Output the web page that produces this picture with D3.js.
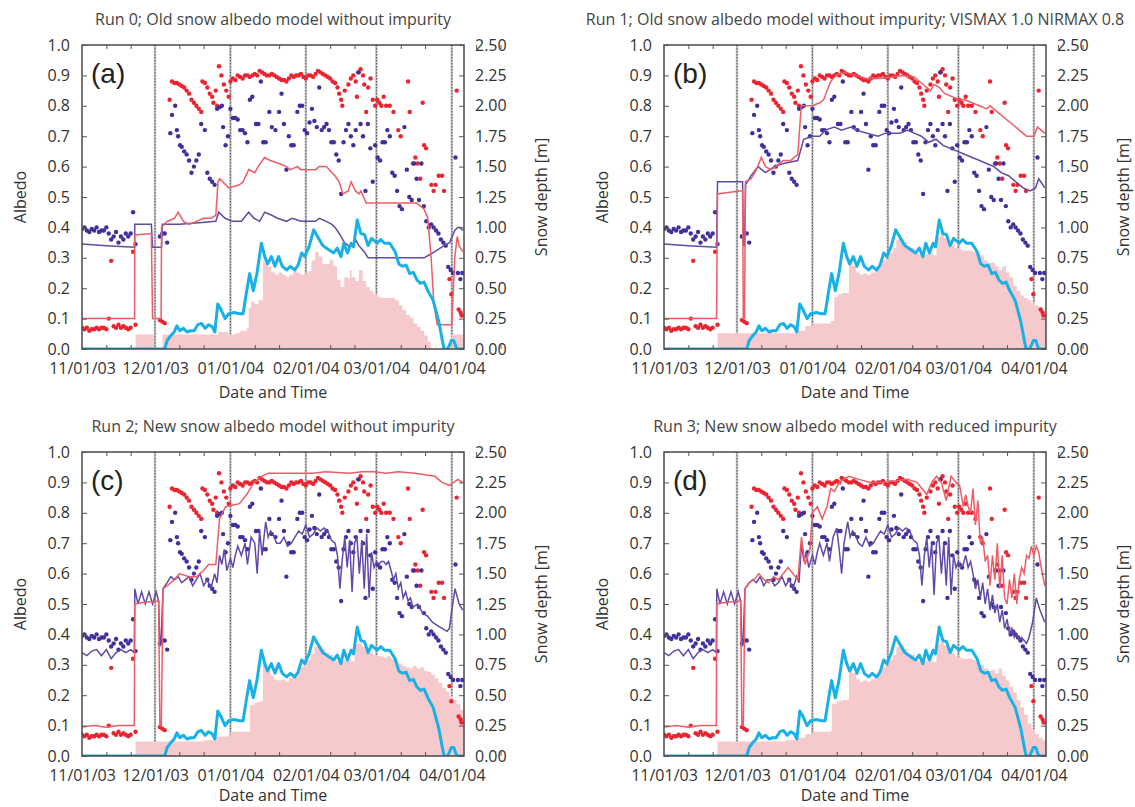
<!DOCTYPE html>
<html>
<head>
<meta charset="utf-8">
<script src="https://cdn.jsdelivr.net/npm/d3@7"></script>
<style>
  body { margin: 0; background: #fff; }
  svg text { font-family: "Open Sans", sans-serif; }
</style>
</head>
<body>
<svg id="chart" width="1135" height="807"></svg>
<script>
// Days are counted from 11/01/03
const START = new Date(2003, 10, 1);
const END = new Date(2004, 3, 6);
const MONTH_TICKS = [new Date(2003, 10, 1), new Date(2003, 11, 1), new Date(2004, 0, 1),
                     new Date(2004, 1, 1), new Date(2004, 2, 1), new Date(2004, 3, 1)];
const ALBEDO_TICKS = [0, .1, .2, .3, .4, .5, .6, .7, .8, .9, 1.0];
const DEPTH_TICKS = [0, .25, .5, .75, 1.0, 1.25, 1.5, 1.75, 2.0, 2.25, 2.5];

const TITLES = [
  "Run 0; Old snow albedo model without impurity",
  "Run 1; Old snow albedo model without impurity; VISMAX 1.0  NIRMAX 0.8",
  "Run 2; New snow albedo model without impurity",
  "Run 3; New snow albedo model with reduced impurity"
];
const TAGS = ["(a)", "(b)", "(c)", "(d)"];

// Observed visible albedo [day, value]
const obsVis = [
  [0,.07],[1,.065],[2,.07],[3,.06],[4,.065],[5,.065],[6,.07],[7,.065],[8,.07],[9,.07],[10,.065],[11,.10],
  [12,.29],[13,.075],[14,.07],[15,.08],[16,.07],[17,.075],[18,.07],[19,.065],[20,.07],[21,.32],[22,.08],
  [32,.095],[33,.09],[34,.085],
  [36,.82],[37,.88],[38,.875],[39,.875],[40,.87],[41,.865],[42,.86],[43,.85],[44,.84],[45,.82],[46,.81],
  [47,.80],[48,.79],[49,.78],[49.5,.88],[50.5,.875],[51.5,.86],[52.5,.84],[53.5,.83],[54,.81],[55,.85],
  [55.5,.80],[56.3,.93],[57.3,.90],[58.3,.87],[59.3,.85],[60.3,.83],
  [61,.88],[62,.89],[63,.885],[64,.90],[65,.895],[66,.89],[67,.90],[68,.90],[69,.895],[70,.90],[71,.905],
  [72,.90],[73,.915],[74,.91],[75,.905],[76,.90],[77,.90],[78,.905],[79,.90],[80,.895],[81,.89],[82,.885],
  [83,.885],[84,.88],[85,.89],[86,.90],[87,.895],[88,.90],[89,.90],[90,.905],[91,.895],[92,.89],[93,.90],
  [94,.90],[95,.895],[96,.905],[97,.915],[98,.91],[99,.905],[100,.90],[101,.895],[102,.89],[103,.88],[104,.875],
  [105,.86],[105.7,.84],[106.5,.82],[107,.80],[108,.85],[109.5,.87],[110.5,.89],[111.5,.90],[112.5,.88],
  [113,.83],[113.8,.91],[114.5,.92],[115.5,.90],[116,.87],[116.8,.78],[117.6,.86],[118.6,.89],[119.5,.82],
  [120.5,.80],[121.3,.82],[122.2,.81],[123,.80],[124,.83],[125,.80],[126.5,.80],[128,.78],[130,.72],[131,.70],
  [134,.88],[134.7,.78],[136,.61],[137,.63],[138,.61],[139,.56],[140,.81],[140.6,.67],[141.4,.66],[143.6,.54],
  [144.5,.52],[145.3,.54],[146.6,.57],[148,.57],[148.8,.52],[151,.23],[151.8,.18],[154,.85],[154.8,.13],
  [155.6,.12],[156,.11]
];

// Observed near-infrared albedo [day, value]
const obsNir = [
  [0,.395],[1,.40],[2,.39],[3,.385],[4,.395],[5,.39],[6,.40],[7,.385],[8,.39],[9,.39],[10,.40],[11,.38],
  [12,.36],[13,.37],[14,.385],[15,.35],[16,.37],[17,.36],[18,.38],[19,.37],[20,.38],[21,.45],[22,.345],
  [32,.37],[33,.38],[34,.38],[35,.35],
  [36.3,.71],[37,.77],[38.3,.80],[39,.72],[39.5,.70],[40.3,.67],[41,.665],[42,.65],[43,.64],[44,.62],[45,.58],
  [46,.60],[47,.62],[48,.64],[49,.74],[50.5,.72],[51.5,.58],[52.5,.56],[53.5,.55],[54.5,.54],[55.5,.79],
  [56.5,.795],[57.5,.80],[58,.73],[59,.67],[60,.70],[61,.79],[62,.76],[63,.76],[64,.755],[65,.72],[66,.72],
  [67,.71],[68,.68],[69,.82],[70,.83],[71.5,.74],[72.5,.74],[73.5,.88],[74.5,.68],[75.5,.68],[77,.78],[78,.73],
  [79.5,.72],[81,.78],[82,.84],[83,.74],[84,.59],[85,.70],[86,.67],[87,.67],[88.5,.78],[89.5,.80],[90.5,.80],
  [91.5,.72],[92.5,.71],[93.5,.745],[94.5,.79],[95.5,.75],[96.5,.73],[97.5,.86],[98.5,.72],[99.5,.73],
  [100.5,.74],[101.5,.72],[102.5,.68],[103.5,.68],[104.5,.64],[105.5,.62],[106.5,.51],[107.5,.68],[108.5,.72],
  [109.5,.74],[110.5,.70],[111.5,.67],[112.5,.72],[113.5,.91],[114.5,.74],[115.5,.70],[116.5,.52],[117.5,.74],
  [118.5,.66],[119.5,.55],[120.5,.67],[121.5,.63],[122.5,.62],[123.5,.68],[124.5,.68],[125.5,.72],[126.5,.70],
  [127.5,.58],[128.5,.57],[129.5,.52],[130.5,.47],[131.5,.46],[132.5,.73],[133.5,.59],[134.5,.50],[135.5,.49],
  [136.5,.61],[137.5,.56],[138.5,.49],[139.5,.61],[140.5,.47],[141.5,.42],[142.5,.40],[143.5,.41],[144.5,.40],
  [145.5,.39],[146.5,.38],[147.5,.36],[148.5,.35],[149.5,.34],[150.5,.27],[151.5,.26],[152.5,.25],[153.5,.63],
  [154.5,.25],[155.5,.23],[156.3,.25]
];

// Observed snow depth [day, m]
const obsDepth = [
  [0,0],[34,0],[35,.07],[36.5,.11],[37.9,.14],[39,.19],[40.2,.15],[41.7,.17],[43.2,.14],[44.6,.15],[46.1,.15],
  [47.6,.20],[49.1,.21],[50.6,.17],[52.1,.20],[53.6,.18],[54.6,.14],[55.8,.37],[57,.33],[58.8,.25],[60.3,.29],
  [62.5,.30],[64.7,.29],[66.2,.29],[67.7,.48],[68.9,.62],[70.4,.48],[71.9,.62],[73.7,.87],[75.1,.76],[76.3,.70],
  [77.8,.76],[79.3,.68],[80.8,.76],[82.3,.68],[84.1,.65],[85.6,.68],[87.4,.65],[88.8,.69],[90.3,.79],[91.5,.76],
  [93.3,.84],[95.2,.98],[97.5,.90],[99,.85],[100.4,.83],[101.9,.81],[103.4,.79],[104.9,.83],[106.4,.76],
  [107.6,.87],[109.1,.79],[110.6,.87],[111.6,.84],[113.1,1.06],[114.6,.95],[116.1,.94],[117.6,.85],[119,.91],
  [121.3,.87],[122.8,.90],[124.3,.87],[126.5,.87],[128.7,.80],[130.2,.70],[131.7,.68],[133.2,.69],[134.7,.62],
  [136.2,.63],[137.6,.57],[139.1,.54],[140.6,.55],[142.1,.48],[144.3,.40],[146.6,.23],[148.1,.07],[148.8,0],
  [150.3,0],[151.8,.07],[152.8,.07],[154,0],[157,0]
];

// Run 0 model
const visRun0 = [
  [0,.10],[21.6,.10],[21.7,.375],[28.5,.38],[29,.10],[32.5,.10],[32.7,.40],[35,.42],[38,.43],[39.5,.45],
  [41.7,.42],[44,.41],[47,.42],[50,.43],[53,.43],[55,.44],[55.9,.55],[56.6,.56],[60.3,.53],[64.7,.54],
  [66.2,.55],[68.5,.59],[71,.58],[72.4,.60],[75,.63],[77.4,.62],[81,.61],[84,.60],[85.6,.59],[88.5,.60],
  [90,.59],[96,.59],[97.5,.60],[100.4,.60],[102.7,.58],[104,.57],[105.7,.55],[107.2,.51],[109.4,.52],
  [110.6,.55],[112.4,.52],[113.8,.51],[114.6,.52],[116.8,.48],[137.6,.48],[139.1,.47],[140.6,.46],[142.1,.43],
  [143.5,.30],[144.6,.15],[146,.08],[152,.08],[153.2,.30],[154.2,.37],[155,.34],[156.5,.32]
];
const nirRun0 = [
  [0,.345],[10,.34],[21.6,.335],[21.7,.41],[28.5,.41],[29,.335],[32.7,.335],[33,.41],[40,.41],[48,.415],
  [55,.42],[56.2,.45],[58.8,.43],[61.8,.42],[65.5,.42],[68.5,.45],[70.7,.43],[73,.42],[75.1,.45],[78,.44],
  [80.3,.43],[84.1,.42],[86.3,.43],[90,.42],[96,.42],[97.5,.43],[100.4,.42],[102.7,.41],[104,.40],[105.7,.38],
  [107.9,.35],[109.4,.34],[111.6,.34],[112.4,.36],[113.8,.34],[116,.32],[117.6,.30],[140.6,.30],[142.8,.31],
  [145,.32],[148.8,.34],[151.1,.35],[153.2,.39],[154.4,.40],[155.4,.40],[156.5,.39]
];
const depthRun0 = [
  [22,.12],[29.5,.12],[29.6,0],[33,0],[33.1,.12],[45,.12],[56,.14],[60,.12],[63,.13],[65,.15],[67.7,.17],
  [68.5,.34],[69.5,.39],[71,.37],[72.5,.40],[74.4,.73],[75,.71],[76.3,.68],[77.8,.63],[79.3,.61],[80.8,.63],
  [82.3,.61],[83.8,.59],[85.3,.61],[86.8,.66],[88.3,.63],[89.8,.61],[91.3,.62],[92.8,.64],[94.3,.73],[95.8,.80],
  [97.3,.76],[98.8,.70],[100.3,.70],[101.8,.73],[103.3,.68],[104.8,.57],[106.3,.51],[107.8,.59],[109.3,.58],
  [110.1,.65],[110.8,.59],[112.4,.56],[113.8,.65],[115.3,.56],[116.8,.51],[118.3,.48],[119.8,.45],[121.3,.43],
  [122.8,.42],[127.2,.42],[128.7,.40],[130.2,.36],[131.7,.32],[133.2,.28],[134.7,.26],[136.2,.21],[137.7,.18],
  [139.2,.15],[140.6,.11],[142.1,.06],[143.3,0],[151.8,0],[151.9,.12],[157,.12]
];

// Run 1 model
const visRun1 = [
  [0,.10],[21.6,.10],[22,.51],[31,.52],[32.3,.52],[32.6,.10],[33.1,.10],[33.5,.55],[35.8,.56],[38,.59],
  [40,.63],[41.7,.60],[44,.59],[46,.60],[49,.62],[52,.62],[55,.64],[56.4,.80],[61,.80],[64,.81],[65.6,.82],
  [68.5,.88],[70.7,.90],[74.5,.91],[79,.90],[83,.89],[89,.89],[93.7,.895],[98,.90],[102.8,.895],[105,.88],
  [106.5,.87],[108,.86],[109.5,.85],[111,.87],[113.2,.86],[115.4,.84],[118.4,.83],[121.4,.82],[123.6,.82],
  [126.6,.81],[129.6,.80],[132.6,.79],[134,.80],[137,.78],[140,.76],[143,.74],[146,.72],[149,.70],[152,.70],
  [153.5,.73],[156.5,.71]
];
const nirRun1 = [
  [0,.345],[10,.34],[21.6,.335],[22,.55],[31,.55],[32.3,.55],[32.6,.34],[33.1,.34],[33.5,.54],[35.8,.57],
  [38.7,.60],[41.7,.58],[45.4,.60],[49,.61],[55,.62],[57.4,.69],[61,.70],[64,.70],[66.3,.72],[70,.73],[73,.72],
  [76.8,.73],[79,.72],[83.5,.71],[88,.70],[91,.71],[97,.71],[100,.72],[102.8,.71],[105.8,.70],[108.8,.68],
  [111.8,.69],[114.7,.67],[117.7,.66],[120.7,.65],[123.7,.64],[126.7,.63],[129.7,.62],[132.6,.61],[135.6,.60],
  [138.6,.58],[141.6,.57],[144.6,.55],[147.6,.53],[150.5,.52],[152.7,.53],[154,.56],[156.5,.53]
];
const depthRun1 = [
  [22,.13],[43,.13],[49,.13],[55,.15],[58,.19],[61,.21],[68.5,.21],[68.6,.23],[70,.43],[71.5,.45],[73,.46],
  [76,.73],[77.5,.68],[79,.63],[80.5,.61],[82,.62],[83.5,.61],[85,.63],[86.5,.66],[88,.68],[89.5,.73],[91,.74],
  [92.5,.79],[94,.83],[95.5,.90],[97,.91],[98.5,.88],[100,.84],[101.5,.83],[103,.79],[104.5,.78],[106,.77],
  [107.5,.78],[109,.79],[110.5,.77],[112,.92],[113.5,.94],[115,.91],[116.5,.88],[118,.86],[119.5,.83],[121,.82],
  [122.5,.81],[124,.81],[125.5,.81],[127,.80],[128.5,.79],[130,.77],[131.5,.73],[133,.71],[134.5,.71],[136,.68],
  [137.5,.65],[139,.68],[140.5,.63],[142,.59],[143.5,.52],[145,.48],[146.5,.44],[148,.42],[149.5,.40],[151,.38],
  [152.5,.36],[154,.32],[155.5,.29],[157,.28]
];

// Run 2 model
const visRun2 = [
  [0,.095],[5,.10],[10,.095],[15,.10],[21.5,.10],[21.7,.50],[25,.505],[31.5,.51],[32,.10],[32.6,.10],
  [33.3,.55],[35,.56],[38,.58],[40,.60],[44,.59],[47,.59],[50,.61],[52,.63],[55,.63],[56.5,.78],[59,.82],
  [64.7,.83],[67.7,.86],[70.7,.90],[73.7,.92],[76.6,.93],[85,.93],[95,.93],[100,.935],[110,.93],[115,.935],
  [120,.935],[125,.93],[130,.935],[137,.93],[141,.925],[145,.92],[148,.90],[151,.89],[152.8,.90],[154.5,.91],
  [156.5,.90]
];
const nirRun2 = [
  [0,.34],[2,.33],[4,.345],[6,.35],[8,.33],[10,.35],[12,.32],[14,.34],[16,.35],[18,.34],[20,.35],[21.5,.34],
  [21.7,.55],[23,.50],[24.5,.54],[26,.50],[27.5,.54],[29,.50],[30.5,.54],[31.5,.51],[32,.36],[32.6,.40],
  [33.3,.55],[35,.57],[36.5,.59],[38,.58],[39.5,.59],[41,.57],[42.5,.58],[44,.59],[45.5,.56],[47,.58],[48.5,.60],
  [50,.56],[51.5,.58],[53,.55],[54.5,.60],[55.5,.57],[56.5,.66],[57.5,.63],[58.5,.68],[59.5,.61],[61,.65],
  [62,.62],[63,.66],[64,.69],[65.5,.66],[67,.70],[68,.63],[69.5,.72],[71,.70],[72,.60],[73,.74],[74,.66],
  [75.5,.77],[76.5,.72],[77.5,.74],[78.5,.73],[80,.70],[81.5,.70],[83,.72],[84.5,.69],[86,.70],[87.5,.72],
  [89,.74],[90.5,.73],[92,.76],[93.5,.72],[95,.73],[96.5,.75],[98,.74],[99.5,.75],[101,.74],[102.5,.71],[104,.70],
  [105,.66],[106,.55],[107,.65],[108,.72],[109,.62],[110,.71],[111,.54],[112,.70],[113,.72],[114,.60],[115,.71],
  [116,.55],[117,.73],[118,.52],[119,.67],[120,.62],[121,.64],[122,.63],[123,.64],[124,.64],[125,.63],[126,.64],
  [127,.61],[128,.58],[129,.60],[130,.55],[131,.57],[132,.52],[133,.54],[134,.51],[135,.52],[136,.49],[138,.50],
  [140,.47],[142,.46],[144,.44],[146,.43],[148,.42],[150,.41],[151,.42],[152,.48],[153.3,.55],[155,.50],[156.5,.48]
];
const depthRun2 = [
  [22,.12],[43,.12],[50,.13],[55,.16],[60,.17],[61,.20],[68.5,.20],[69,.42],[71,.44],[73,.45],[74.4,.75],
  [76,.70],[77.5,.66],[79,.63],[80.5,.62],[82,.63],[83.5,.61],[85,.64],[86.5,.66],[88,.69],[89.5,.73],[91,.75],
  [92.5,.79],[94,.84],[95.5,.90],[97,.91],[98.5,.88],[100,.85],[101.5,.83],[103,.80],[104.5,.78],[106,.78],
  [107.5,.79],[109,.80],[110.5,.78],[112,.92],[113.5,.93],[115,.90],[116.5,.87],[118,.85],[119.5,.83],[121,.82],
  [122.5,.82],[124,.81],[125.5,.82],[127,.80],[128.5,.78],[130,.76],[131.5,.74],[133,.73],[134.5,.72],[136,.74],
  [137.5,.72],[139,.73],[140.5,.70],[142,.69],[143.5,.67],[145,.64],[146.5,.60],[148,.56],[149.5,.53],[151,.49],
  [152.5,.46],[154,.43],[155.5,.38],[157,.35]
];

// Run 3 model
const visRun3 = [
  [0,.095],[5,.10],[10,.095],[15,.10],[21.5,.10],[21.7,.50],[25,.505],[31.5,.51],[32,.10],[32.6,.10],
  [33.3,.55],[35,.57],[37,.58],[39,.60],[41,.58],[43,.57],[45,.59],[47,.58],[49,.60],[51,.62],[53,.60],[55,.58],
  [56.5,.72],[58,.63],[60,.68],[61,.80],[63,.82],[65,.78],[67,.82],[68.5,.88],[70,.87],[72,.90],[74,.91],
  [76,.92],[80,.91],[85,.90],[90,.90],[95,.905],[100,.91],[104,.90],[106,.88],[108,.86],[110,.90],[112,.92],
  [114,.90],[116,.84],[117,.88],[118,.92],[120,.90],[121.5,.89],[123,.82],[124,.86],[125,.82],[126,.80],
  [127,.88],[128,.76],[129,.84],[130,.70],[131,.72],[132,.64],[133,.66],[134,.56],[135,.66],[136,.58],[137,.70],
  [138,.55],[139,.66],[140,.52],[141,.50],[142,.58],[143,.52],[144,.60],[145,.50],[146,.58],[147,.62],[148,.60],
  [149,.66],[150,.65],[151,.69],[152,.66],[153,.69],[154,.67],[155,.62],[156.5,.56]
];
const nirRun3 = [
  [0,.34],[2,.33],[4,.345],[6,.35],[8,.33],[10,.35],[12,.32],[14,.34],[16,.35],[18,.34],[20,.35],[21.5,.34],
  [21.7,.55],[23,.50],[24.5,.54],[26,.50],[27.5,.54],[29,.50],[30.5,.54],[31.5,.51],[32,.36],[32.6,.40],
  [33.3,.55],[35,.57],[36.5,.58],[38,.57],[39.5,.59],[41,.56],[42.5,.58],[44,.58],[45.5,.56],[47,.57],[48.5,.59],
  [50,.56],[51.5,.58],[53,.55],[54.5,.59],[55.5,.57],[56.5,.70],[57.5,.64],[58.5,.67],[59.5,.62],[61,.66],
  [62,.63],[63,.67],[64,.70],[65.5,.66],[67,.70],[68,.64],[69.5,.72],[71,.75],[72,.68],[73,.60],[74,.70],
  [75.5,.77],[76.5,.72],[77.5,.74],[78.5,.73],[80,.70],[81.5,.69],[83,.72],[84.5,.69],[86,.70],[87.5,.72],
  [89,.74],[90.5,.73],[92,.76],[93.5,.72],[95,.73],[96.5,.75],[98,.74],[99.5,.75],[101,.74],[102.5,.71],[104,.70],
  [105,.66],[106,.56],[107,.66],[108,.72],[109,.62],[110,.70],[111,.53],[112,.70],[113,.72],[114,.60],[115,.70],
  [116,.56],[117,.72],[118,.53],[119,.66],[120,.62],[121,.64],[122,.62],[123,.63],[124,.66],[125,.62],[126,.64],
  [127,.60],[128,.55],[129,.58],[130,.52],[131,.57],[132,.50],[133,.55],[134,.48],[135,.53],[136,.47],[137,.50],
  [138,.44],[139,.48],[140,.42],[141,.45],[142,.40],[143,.42],[144,.39],[145,.40],[146,.38],[147,.39],[148,.38],
  [149,.37],[150,.39],[151.5,.44],[153,.52],[154.5,.48],[156.5,.44]
];
const depthRun3 = [
  [22,.12],[43,.12],[50,.13],[55,.15],[58,.18],[61,.20],[68.5,.21],[69,.43],[71,.45],[73,.46],[76,.73],
  [77.5,.68],[79,.63],[80.5,.61],[82,.62],[83.5,.61],[85,.63],[86.5,.66],[88,.68],[89.5,.73],[91,.74],[92.5,.79],
  [94,.83],[95.5,.90],[97,.91],[98.5,.88],[100,.84],[101.5,.83],[103,.79],[104.5,.78],[106,.77],[107.5,.78],
  [109,.79],[110.5,.77],[112,.92],[113.5,.94],[115,.91],[116.5,.88],[118,.85],[119.5,.82],[121,.81],[122.5,.80],
  [124,.80],[125.5,.80],[127,.79],[128.5,.77],[130,.75],[131.5,.72],[133,.70],[134.5,.71],[136,.68],[137.5,.72],
  [139,.66],[140.5,.62],[142,.57],[143.5,.52],[145,.46],[146.5,.40],[148,.34],[149.5,.27],[151,.22],[152.5,.18],
  [154,.15],[155.5,.13],[157,.12]
];

const RUNS = [
  { vis: visRun0, nir: nirRun0, depth: depthRun0 },
  { vis: visRun1, nir: nirRun1, depth: depthRun1 },
  { vis: visRun2, nir: nirRun2, depth: depthRun2 },
  { vis: visRun3, nir: nirRun3, depth: depthRun3 }
];

// Layout
const W = 382, H = 304;
const ORIGINS = [[82, 45], [664, 45], [82, 452], [664, 452]];

const RED = "#ea2430", PURPLE = "#41309a";
const RED_LINE = "#ef5c66", PURPLE_LINE = "#634aa6";
const BLUE = "#18b0e6", PINK = "#f6c9cd";
const INK = "#333";

const toDate = d => new Date(START.getTime() + d * 86400000);

const x = d3.scaleTime().domain([START, END]).range([0, W]);
const yA = d3.scaleLinear().domain([0, 1]).range([H, 0]);
const yD = d3.scaleLinear().domain([0, 2.5]).range([H, 0]);

// minor ticks on the 11th and 21st of each month
const MINOR_TICKS = [];
d3.timeMonth.range(START, END).forEach(m => {
  MINOR_TICKS.push(new Date(m.getFullYear(), m.getMonth(), 11));
  MINOR_TICKS.push(new Date(m.getFullYear(), m.getMonth(), 21));
});
const GRID_DATES = MONTH_TICKS.slice(1);

const svg = d3.select("#chart");

function drawPanel(i) {
  const [ox, oy] = ORIGINS[i];
  const run = RUNS[i];
  const g = svg.append("g").attr("transform", `translate(${ox},${oy})`);

  const clipId = "clip" + i;
  g.append("clipPath").attr("id", clipId)
    .append("rect").attr("width", W).attr("height", H);

  const plot = g.append("g").attr("clip-path", `url(#${clipId})`);

  // Month gridlines
  GRID_DATES.forEach(dt => {
    plot.append("line")
      .attr("x1", x(dt)).attr("x2", x(dt))
      .attr("y1", 0).attr("y2", H)
      .attr("stroke", "#c4c4c4").attr("stroke-width", 2.4);
    plot.append("line")
      .attr("x1", x(dt)).attr("x2", x(dt))
      .attr("y1", 0).attr("y2", H)
      .attr("stroke", "#555").attr("stroke-width", 1)
      .attr("stroke-dasharray", "1.5,1.5");
  });

  // Modelled snow depth
  const area = d3.area()
    .x(d => x(toDate(d[0])))
    .y0(H)
    .y1(d => yD(d[1]))
    .curve(d3.curveStepAfter);
  plot.append("path").datum(run.depth)
    .attr("d", area)
    .attr("fill", PINK);

  // Observed albedo points
  plot.append("g").selectAll("circle").data(obsVis).join("circle")
    .attr("cx", d => x(toDate(d[0])))
    .attr("cy", d => yA(d[1]))
    .attr("r", 2.2)
    .attr("fill", RED);
  plot.append("g").selectAll("circle").data(obsNir).join("circle")
    .attr("cx", d => x(toDate(d[0])))
    .attr("cy", d => yA(d[1]))
    .attr("r", 2.2)
    .attr("fill", PURPLE);

  // Modelled albedo
  const lineA = d3.line()
    .x(d => x(toDate(d[0])))
    .y(d => yA(d[1]));
  plot.append("path").datum(run.nir)
    .attr("d", lineA)
    .attr("fill", "none")
    .attr("stroke", PURPLE_LINE)
    .attr("stroke-width", 1.5);
  plot.append("path").datum(run.vis)
    .attr("d", lineA)
    .attr("fill", "none")
    .attr("stroke", RED_LINE)
    .attr("stroke-width", 1.5);

  // Observed snow depth
  const lineD = d3.line()
    .x(d => x(toDate(d[0])))
    .y(d => yD(d[1]));
  plot.append("path").datum(obsDepth)
    .attr("d", lineD)
    .attr("fill", "none")
    .attr("stroke", BLUE)
    .attr("stroke-width", 3)
    .attr("stroke-linejoin", "round");

  // Frame
  g.append("rect")
    .attr("width", W).attr("height", H)
    .attr("fill", "none")
    .attr("stroke", "#4a4a4a")
    .attr("stroke-width", 1.5);

  // Axes
  const left = g.append("g")
    .call(d3.axisLeft(yA).tickValues(ALBEDO_TICKS).tickFormat(d3.format(".1f"))
      .tickSize(-5).tickSizeOuter(0).tickPadding(12));
  const right = g.append("g").attr("transform", `translate(${W},0)`)
    .call(d3.axisRight(yD).tickValues(DEPTH_TICKS).tickFormat(d3.format(".2f"))
      .tickSize(-5).tickSizeOuter(0).tickPadding(11));
  const bottom = g.append("g").attr("transform", `translate(0,${H})`)
    .call(d3.axisBottom(x).tickValues(MONTH_TICKS).tickFormat(d3.timeFormat("%m/%d/%y"))
      .tickSize(0).tickSizeOuter(0).tickPadding(14));
  const bottomMinor = g.append("g").attr("transform", `translate(0,${H})`)
    .call(d3.axisBottom(x).tickValues(MINOR_TICKS).tickFormat("").tickSize(-4).tickSizeOuter(0));
  const topMinor = g.append("g")
    .call(d3.axisTop(x).tickValues(MINOR_TICKS).tickFormat("").tickSize(-4).tickSizeOuter(0));

  [left, right, bottom, bottomMinor, topMinor].forEach(a => {
    a.select(".domain").remove();
    a.selectAll("line").attr("stroke", "#555");
    a.selectAll("text").attr("font-size", 16).attr("fill", INK)
      .style("font-family", "'Open Sans', sans-serif");
  });

  // Texts
  g.append("text")
    .attr("x", W / 2).attr("y", -20)
    .attr("text-anchor", "middle")
    .attr("font-size", 16).attr("fill", "#444")
    .text(TITLES[i]);

  g.append("text")
    .attr("x", 9).attr("y", 38)
    .attr("font-size", 28).attr("fill", "#222")
    .style("font-family", "'Liberation Sans', Arial, sans-serif")
    .text(TAGS[i]);

  g.append("text")
    .attr("transform", `translate(-62,${H / 2}) rotate(-90)`)
    .attr("text-anchor", "middle").attr("dy", "0.35em")
    .attr("font-size", 16).attr("fill", INK)
    .text("Albedo");

  g.append("text")
    .attr("transform", `translate(${W + 77},${H / 2}) rotate(-90)`)
    .attr("text-anchor", "middle").attr("dy", "0.35em")
    .attr("font-size", 16).attr("fill", INK)
    .text("Snow depth [m]");

  g.append("text")
    .attr("x", W / 2).attr("y", i < 2 ? H + 49 : H + 45)
    .attr("text-anchor", "middle")
    .attr("font-size", 16).attr("fill", INK)
    .text("Date and Time");
}

RUNS.forEach((r, i) => drawPanel(i));
</script>
</body>
</html>
